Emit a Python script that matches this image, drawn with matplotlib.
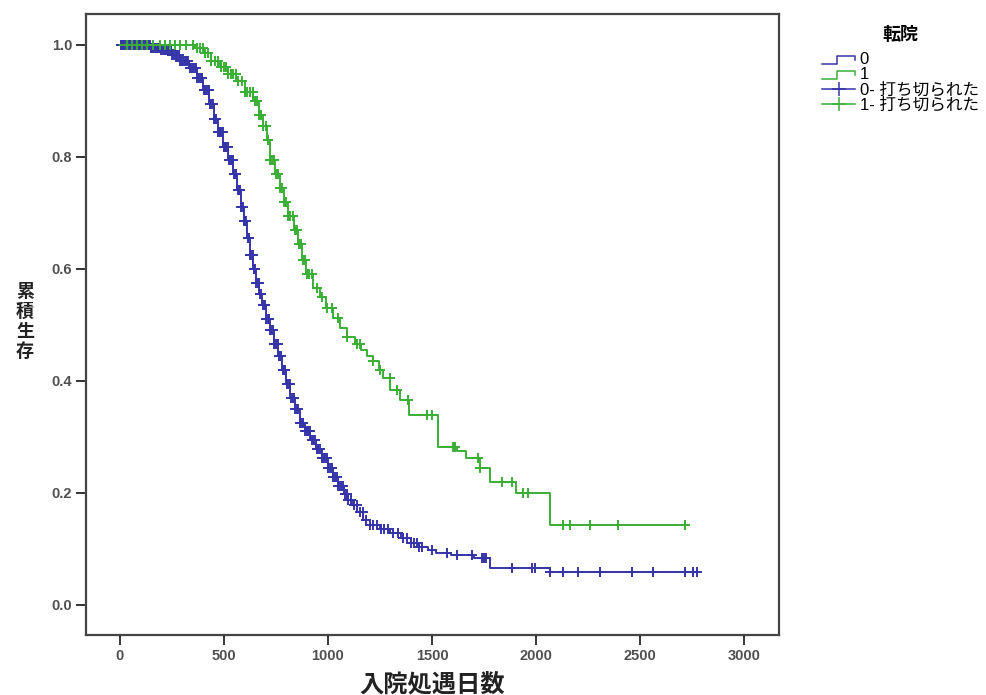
import numpy as np
import matplotlib.pyplot as plt
from matplotlib.lines import Line2D
from matplotlib.legend_handler import HandlerBase

plt.rcParams['font.family'] = ['Liberation Sans', 'Noto Sans CJK JP', 'DejaVu Sans']

# ---------- data ----------
# group 0 : step times (days) and survival after each step
t0 = [0, 150, 200, 250, 290, 330, 370, 400, 430, 450, 470, 495, 520, 545, 565,
      580, 595, 610, 625, 640, 655, 670, 685, 700, 720, 740, 760, 780, 800, 820,
      840, 865, 890, 915, 945, 970, 1000, 1025, 1050, 1075, 1095, 1115, 1140,
      1170, 1200, 1250, 1300, 1350, 1400, 1440, 1480, 1520, 1590, 1700, 1780,
      2067, 2774]
s0 = [1.0, 0.995, 0.99, 0.982, 0.972, 0.958, 0.94, 0.92, 0.895, 0.868, 0.845,
      0.818, 0.795, 0.77, 0.74, 0.71, 0.685, 0.655, 0.625, 0.60, 0.575, 0.555,
      0.535, 0.51, 0.49, 0.465, 0.445, 0.42, 0.395, 0.37, 0.35, 0.325, 0.31,
      0.295, 0.278, 0.262, 0.245, 0.228, 0.212, 0.198, 0.188, 0.178, 0.165,
      0.152, 0.142, 0.135, 0.128, 0.12, 0.11, 0.104, 0.098, 0.093, 0.089,
      0.084, 0.066, 0.059, 0.059]

# group 1
t1 = [0, 360, 400, 440, 480, 520, 560, 600, 640, 670, 690, 705, 720, 745, 770,
      790, 810, 835, 855, 875, 895, 930, 960, 990, 1025, 1060, 1090, 1130, 1160,
      1190, 1215, 1245, 1265, 1300, 1345, 1390, 1530, 1620, 1665, 1730, 1780,
      1905, 2067, 2726]
s1 = [1.0, 0.995, 0.985, 0.972, 0.96, 0.948, 0.935, 0.915, 0.90, 0.875, 0.855,
      0.83, 0.795, 0.77, 0.745, 0.72, 0.695, 0.67, 0.645, 0.615, 0.59, 0.565,
      0.55, 0.53, 0.512, 0.495, 0.478, 0.465, 0.455, 0.445, 0.435, 0.42, 0.405,
      0.383, 0.366, 0.339, 0.282, 0.275, 0.262, 0.245, 0.22, 0.2, 0.143, 0.143]

# censored times
c0 = [3, 10, 16, 22, 28, 35, 41, 48, 54, 60, 67, 73, 80, 86, 92, 99, 105, 112,
      118, 125, 131, 138, 144, 150, 157, 163, 170, 178, 185, 192, 200, 208, 215,
      222, 230, 238, 245, 252, 260, 268, 275, 282, 290, 298, 305, 312, 320, 328,
      335, 342, 350, 357, 365, 372, 380, 388, 395, 402, 410, 416, 422, 428, 434,
      440, 446, 452, 458, 464, 470, 476, 482, 488, 494, 500, 506, 512, 518, 524,
      530, 536, 542, 548, 554, 560, 566, 572, 578, 584, 590, 596, 602, 608, 614,
      620, 626, 632, 638, 644, 650, 656, 662, 668, 674, 680, 686, 692, 698, 704,
      710, 716, 722, 728, 734, 740, 746, 752, 758, 764, 770, 776, 782, 788, 795,
      802, 809, 816, 823, 830, 837, 844, 851, 858, 866, 874, 882, 890, 898, 906,
      914, 922, 930, 938, 946, 954, 962, 970, 978, 986, 994, 1002, 1010, 1018,
      1026, 1034, 1042, 1050, 1058, 1066, 1074, 1082, 1090, 1098, 1110, 1125,
      1139, 1155, 1168, 1185, 1200, 1216, 1235, 1255, 1270, 1290, 1313, 1335,
      1361, 1380, 1400, 1415, 1428, 1440, 1452, 1500, 1572, 1620, 1692, 1740,
      1750, 1760, 1885, 1981, 1995, 2067, 2130, 2202, 2308, 2462, 2562, 2716,
      2755, 2774]
c1 = [34, 60, 80, 105, 130, 160, 192, 215, 240, 265, 288, 320, 351, 370, 385,
      398, 410, 425, 440, 455, 470, 485, 500, 510, 520, 533, 545, 558, 570, 585,
      600, 612, 625, 638, 650, 660, 670, 680, 690, 700, 710, 720, 730, 740, 750,
      760, 770, 780, 790, 800, 810, 820, 830, 840, 850, 860, 870, 880, 890, 900,
      910, 925, 947, 970, 995, 1020, 1050, 1091, 1139, 1154, 1216, 1250, 1298,
      1332, 1385, 1476, 1500, 1601, 1611, 1721, 1731, 1837, 1885, 1938, 1962,
      2130, 2163, 2260, 2394, 2716]

groups = ['0', '1']
colors = ['#3535a8', '#3aae35']
x_ticks = [0, 500, 1000, 1500, 2000, 2500, 3000]
y_ticks = [0.0, 0.2, 0.4, 0.6, 0.8, 1.0]

CJK = ['Noto Sans CJK JP', 'DejaVu Sans']


class StepHandler(HandlerBase):
    # little step glyph like the SPSS legend
    def create_artists(self, legend, orig, xd, yd, w, h, fontsize, trans):
        xs = [xd, xd + 0.45 * w, xd + 0.45 * w, xd + w, xd + w]
        ys = [yd + 0.05 * h, yd + 0.05 * h, yd + 0.7 * h, yd + 0.7 * h, yd + 0.35 * h]
        ln = Line2D(xs, ys, color=orig.get_color(), lw=1.1, transform=trans)
        return [ln]


def surv_at(times, surv, t):
    idx = np.searchsorted(times, t, side='right') - 1
    return np.asarray(surv)[idx]


fig = plt.figure(figsize=(9.86, 6.95), dpi=100)
ax = fig.add_axes([0.0872, 0.0863, 0.7028, 0.8935])

handles = []
for t, s, c, col in [(t0, s0, c0, colors[0]), (t1, s1, c1, colors[1])]:
    ln, = ax.step(t, s, where='post', color=col, lw=1.4)
    ax.plot(c, surv_at(t, s, c), ls='none', marker='+', ms=7.5, mew=1.4, color=col)
    handles.append(ln)

cens_h = [Line2D([], [], color=col, lw=1.1, marker='+', ms=10, mew=1.1) for col in colors]

ax.set_xlim(-163, 3168)
ax.set_ylim(-0.054, 1.055)
ax.set_xticks(x_ticks)
ax.set_yticks(y_ticks)
ax.set_yticklabels(['%.1f' % v for v in y_ticks])
ax.tick_params(direction='out', length=7, width=1.4, color='#333333',
               labelsize=10.5, labelcolor='#505050', pad=3)
for lab in ax.get_xticklabels() + ax.get_yticklabels():
    lab.set_fontweight('bold')
for sp in ax.spines.values():
    sp.set_linewidth(1.6)
    sp.set_color('#444444')

ax.set_xlabel('入院処遇日数', fontsize=17.5, fontweight='bold', color='#222222',
              labelpad=7, family=CJK)
ax.set_ylabel('\n'.join('累積生存'), fontsize=13, fontweight='bold', color='#222222',
              rotation=0, va='center', ha='center', linespacing=1.05, family=CJK)
ax.yaxis.set_label_coords(-0.088, 0.505)

leg = fig.legend(handles + cens_h,
                 groups + [g + '- 打ち切られた' for g in groups],
                 handler_map={handles[0]: StepHandler(), handles[1]: StepHandler()},
                 title='転院', loc='upper left', bbox_to_anchor=(0.822, 0.978),
                 frameon=False, fontsize=12, handlelength=2.0, handletextpad=0.25,
                 labelspacing=0.0, borderpad=0.2)
leg.get_title().set_fontsize(13)
leg.get_title().set_fontweight('bold')
leg._legend_box.align = 'center'
leg._legend_box.sep = 6

fig.savefig('out.png', dpi=100)
